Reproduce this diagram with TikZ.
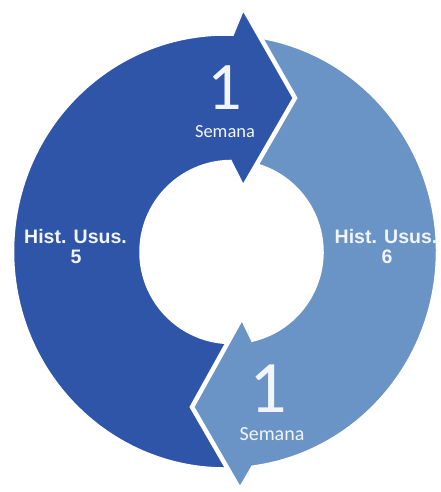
\documentclass[tikz,border=0pt]{standalone}
\usepackage{fontspec}
\setmainfont{Liberation Sans}
\newfontfamily\calfont{Carlito}
\definecolor{darkb}{HTML}{2F55A9}
\definecolor{lightb}{HTML}{6A93C6}
\definecolor{txt}{HTML}{F2F5FB}
\begin{document}
\begin{tikzpicture}[x=1pt,y=1pt,
  seg/.style={line width=4.5pt, draw=white, line join=miter},
  lbl/.style={text=txt, font=\bfseries\fontsize{19.5}{20}\selectfont, inner sep=0pt, anchor=base},
  big/.style={text=txt, inner sep=0pt, anchor=base}]
\useasboundingbox (0,0) rectangle (441,-492);
% light half (right), arrow at the bottom
\path[seg, fill=lightb] ([shift={(225,-251.5)}]83.26:213 and 218)
  arc[start angle=83.26, end angle=-82.44, x radius=213, y radius=218]
  -- (240,-490) -- (192,-407) -- (242,-317)
  -- ([shift={(231.5,-252)}]-76.27:90)
  arc[start angle=-76.27, end angle=78.14, radius=90] -- cycle;
% dark half (left), arrow at the top
\path[seg, fill=darkb] ([shift={(225,-251.5)}]274.04:213 and 218)
  arc[start angle=274.04, end angle=88.11, x radius=213, y radius=218]
  -- (243,-7) -- (295,-98) -- (243,-188)
  -- ([shift={(231.5,-252)}]90.97:90)
  arc[start angle=90.97, end angle=275.48, radius=90] -- cycle;
% bottom arrowhead of the light half again, on top
\begin{scope}
  \clip (150,-300) rectangle (248,-492);
  \path[seg, fill=lightb] ([shift={(225,-251.5)}]83.26:213 and 218)
    arc[start angle=83.26, end angle=-82.44, x radius=213, y radius=218]
    -- (240,-490) -- (192,-407) -- (242,-317)
    -- ([shift={(231.5,-252)}]-76.27:90)
    arc[start angle=-76.27, end angle=78.14, radius=90] -- cycle;
\end{scope}
% labels
\node[lbl] (l1) at (75.5,-243) {Hist. Usus.};
\node[lbl] (l2) at (76,-263) {5};
\node[lbl] (r1) at (386,-243) {Hist. Usus.};
\node[lbl] (r2) at (387,-263) {6};
\node[big, font=\calfont\fontsize{68}{68}\selectfont] (t1) at (225,-110) {1};
\node[big, font=\calfont\fontsize{18.5}{19}\selectfont] (t2) at (225,-137) {Semana};
\node[big, font=\calfont\fontsize{74}{74}\selectfont] (b1) at (268.5,-412) {1};
\node[big, font=\calfont\fontsize{20}{20}\selectfont] (b2) at (272,-440) {Semana};
\end{tikzpicture}
\end{document}
